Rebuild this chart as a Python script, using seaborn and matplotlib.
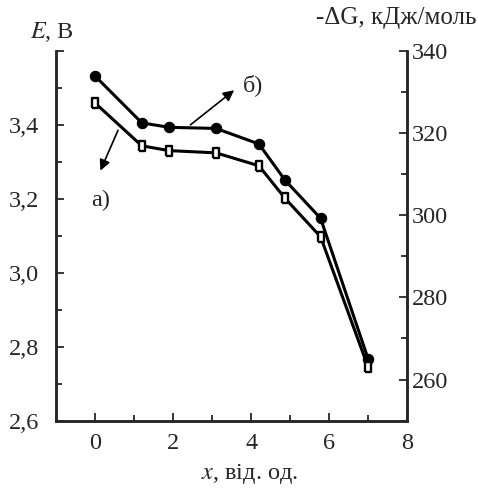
import numpy as np
import seaborn as sns
import matplotlib
matplotlib.use('Agg')
from matplotlib import pyplot as plt
from matplotlib.ticker import MultipleLocator, FuncFormatter

# composition x and EMF values
x_vals = [0, 1.2, 1.9, 3.1, 4.2, 4.87, 5.78, 7.0]
E_b = [3.532, 3.405, 3.393, 3.39, 3.348, 3.25, 3.147, 2.766]   # б) filled circles
E_a = [3.459, 3.343, 3.330, 3.324, 3.289, 3.201, 3.097, 2.744]  # а) open squares

sns.set_style('ticks')
plt.rcParams['font.family'] = ['Liberation Serif', 'DejaVu Serif']
plt.rcParams['mathtext.fontset'] = 'stix'
fs = 17.5

fig = plt.figure(figsize=(4.78, 4.88), dpi=100)
ax = fig.add_axes([0.117, 0.138, 0.735, 0.758])

# tall open rectangle marker like in the original
rect = [(-0.62, -1), (0.62, -1), (0.62, 1), (-0.62, 1), (-0.62, -1)]

sns.lineplot(x=x_vals, y=E_b, ax=ax, color='black', lw=2.2, marker='o',
             markersize=7.5, markeredgecolor='black', markerfacecolor='black')
sns.lineplot(x=x_vals, y=E_a, ax=ax, color='black', lw=2.2, marker=rect,
             markersize=7, markeredgecolor='black', markerfacecolor='white',
             markeredgewidth=1.7)

ax.set_xlim(-1, 8)
ax.set_ylim(2.6, 3.6)
ax.xaxis.set_major_locator(MultipleLocator(2))
ax.xaxis.set_minor_locator(MultipleLocator(1))
ax.yaxis.set_major_locator(MultipleLocator(0.2))
ax.yaxis.set_minor_locator(MultipleLocator(0.1))
ax.yaxis.set_major_formatter(FuncFormatter(
    lambda v, p: '' if v > 3.55 else f'{v:.1f}'.replace('.', ',')))

ax2 = ax.twinx()
ax2.set_ylim(250, 340)
ax2.yaxis.set_major_locator(MultipleLocator(20))
ax2.yaxis.set_minor_locator(MultipleLocator(10))

for a in (ax, ax2):
    a.tick_params(which='both', direction='in', labelsize=fs, width=1.3)
    a.tick_params(which='major', length=6)
    a.tick_params(which='minor', length=4)
    a.spines['top'].set_visible(False)
    for s in ('left', 'bottom', 'right'):
        a.spines[s].set_linewidth(1.8)
ax.tick_params(axis='y', pad=12)
ax.tick_params(axis='x', pad=9)
ax2.tick_params(axis='y', pad=3)

ax.set_xlabel(r'$x$, від. од.', fontsize=fs, labelpad=6, x=0.55)
fig.text(0.062, 0.922, r'$E$, В', fontsize=fs, ha='left', va='baseline')
fig.text(0.997, 0.95, '-ΔG, кДж/моль', fontsize=fs + 0.5, ha='right', va='baseline')

# curve labels with arrows
ax.annotate('', xy=(3.62, 3.498), xytext=(2.39, 3.395),
            arrowprops=dict(arrowstyle='-|>', color='black', lw=1.2, mutation_scale=16))
ax.text(4.04, 3.507, 'б)', fontsize=fs, ha='center', va='center')
ax.annotate('', xy=(0.11, 3.269), xytext=(0.62, 3.392),
            arrowprops=dict(arrowstyle='-|>', color='black', lw=1.2, mutation_scale=16))
ax.text(0.14, 3.196, 'а)', fontsize=fs, ha='center', va='center')

fig.savefig('out.png', dpi=100)
